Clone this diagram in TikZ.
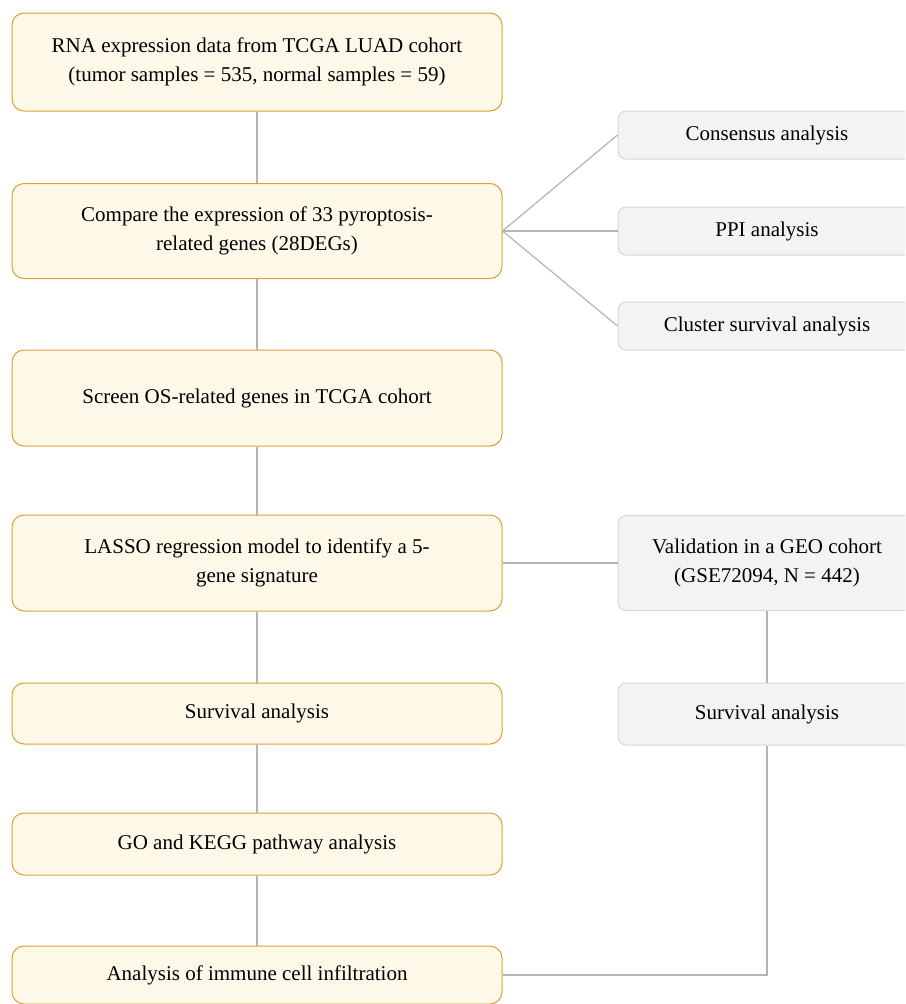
\documentclass[tikz,border=0pt]{standalone}
\usepackage{fontspec}
\setmainfont{Liberation Serif}
\definecolor{boxedge}{RGB}{222,160,48}
\definecolor{boxfill}{RGB}{254,248,232}
\definecolor{greyedge}{RGB}{214,214,214}
\definecolor{greyfill}{RGB}{243,243,243}
\definecolor{linkgrey}{RGB}{180,180,180}

\begin{document}
\begin{tikzpicture}[x=1pt,y=-1pt,
  leftbox/.style={draw=boxedge, fill=boxfill, line width=1pt, rounded corners=12pt,
    minimum width=490pt, align=center, font=\fontsize{21}{29}\selectfont},
  rightbox/.style={draw=greyedge, fill=greyfill, line width=1pt, rounded corners=8pt,
    minimum width=298pt, align=center, font=\fontsize{21}{29}\selectfont},
  link/.style={draw=linkgrey, line width=1.2pt}]
\useasboundingbox (0,0) rectangle (905,1004);
\clip (0,0) rectangle (905,1004);
% main column
\node [leftbox, minimum height=98pt] (rna) at (257,62) {RNA expression data from TCGA LUAD cohort\\(tumor samples = 535, normal samples = 59)};
\node [leftbox, minimum height=95pt] (cmp) at (257,231) {Compare the expression of 33 pyroptosis-\\related genes (28DEGs)};
\node [leftbox, minimum height=96pt] (os) at (257,398) {Screen OS-related genes in TCGA cohort};
\node [leftbox, minimum height=96pt] (lasso) at (257,563) {LASSO regression model to identify a 5-\\gene signature};
\node [leftbox, minimum height=61pt] (surv) at (257,713.5) {Survival analysis};
\node [leftbox, minimum height=62pt] (go) at (257,844) {GO and KEGG pathway analysis};
\node [leftbox, minimum height=58pt] (immune) at (257,975) {Analysis of immune cell infiltration};
% side boxes
\node [rightbox, minimum height=48pt] (cons) at (767,135) {Consensus analysis};
\node [rightbox, minimum height=48pt] (ppi) at (767,231) {PPI analysis};
\node [rightbox, minimum height=48pt] (clus) at (767,326) {Cluster survival analysis};
\node [rightbox, minimum height=95pt] (valid) at (767,563) {Validation in a GEO cohort\\(GSE72094, N = 442)};
\node [rightbox, minimum height=62pt] (survgeo) at (767,714) {Survival analysis};
% connectors
\draw [link] (rna) -- (cmp);
\draw [link] (cmp) -- (os);
\draw [link] (os) -- (lasso);
\draw [link] (lasso) -- (surv);
\draw [link] (surv) -- (go);
\draw [link] (go) -- (immune);
\draw [link] (cmp.east) -- (cons.west);
\draw [link] (cmp.east) -- (ppi.west);
\draw [link] (cmp.east) -- (clus.west);
\draw [link] (lasso.east) -- (valid.west);
\draw [link] (valid) -- (survgeo);
\draw [link] (survgeo.south) |- (immune.east);
\end{tikzpicture}
\end{document}
